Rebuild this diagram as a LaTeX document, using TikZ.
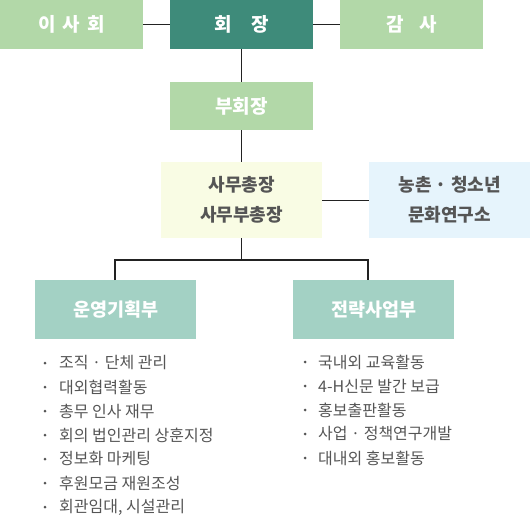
\documentclass[tikz,border=0pt]{standalone}
\usepackage{fontspec}
\setmainfont{Noto Sans CJK KR}
\usetikzlibrary{positioning}
\definecolor{boardgreen}{HTML}{B2D8A8}
\definecolor{chairteal}{HTML}{3E8B7A}
\definecolor{secyellow}{HTML}{F9FCE4}
\definecolor{labblue}{HTML}{E6F4FC}
\definecolor{deptteal}{HTML}{A3D1C4}
\definecolor{itemgray}{HTML}{555555}
\definecolor{linegray}{HTML}{222222}

\begin{document}
\begin{tikzpicture}[x=1pt,y=-1pt,
  topbox/.style={anchor=north west,minimum width=143pt,minimum height=49pt,inner sep=0pt,
    fill=boardgreen,text=white,font=\fontsize{19}{22}\selectfont\bfseries},
  midbox/.style={anchor=north west,minimum width=161pt,minimum height=76pt,inner sep=0pt,
    align=center,text=itemgray,font=\fontsize{18}{30}\selectfont\bfseries},
  deptbox/.style={anchor=north west,minimum width=161pt,minimum height=59pt,inner sep=0pt,
    fill=deptteal,text=white,font=\fontsize{18.5}{22}\selectfont\bfseries},
  bullet/.style={circle,fill=itemgray,inner sep=0pt,minimum size=3pt},
  item/.style={anchor=west,inner sep=0pt,text=itemgray,font=\fontsize{16}{18}\selectfont},
  link/.style={draw=linegray,line width=1.1pt}]
  \useasboundingbox (0,0) rectangle (530,516);

  % top row
  \node[topbox] (board) at (0,0) {이\hspace{0.35em}사\hspace{0.35em}회};
  \node[topbox,fill=chairteal] (chair) at (170,0) {회\quad 장};
  \node[topbox] (audit) at (340,0) {감\hspace{0.8em}사};
  \node[topbox,minimum height=48pt] (vice) at (170,82) {부회장};

  % secretariat and institute
  \node[midbox,fill=secyellow] (sec) at (161,162) {사무총장\\사무부총장};
  \node[midbox,fill=labblue] (lab) at (369,162) {농촌 · 청소년\\문화연구소};

  % departments
  \node[deptbox] (ops) at (35,280) {운영기획부};
  \node[deptbox] (strat) at (293,280) {전략사업부};

  \draw[link] (board) -- (chair);
  \draw[link] (chair) -- (audit);
  \draw[link] (chair) -- (vice);
  \draw[link] (vice) -- (sec);
  \draw[link] (sec) -- (lab);
  \coordinate (jL) at (115,260);
  \coordinate (jR) at (368,260);
  \draw[link] (sec) -- (sec |- jL);
  \draw[link] (jL |- ops.north) -- (jL) -- (jR) -- (jR |- strat.north);

  % task lists
  \foreach \t [count=\i] in {{조직 · 단체 관리},{대외협력활동},{총무 인사 재무},
      {회의 법인관리 상훈지정},{정보화 마케팅},{후원모금 재원조성},{회관임대, 시설관리}} {
    \node[bullet] (opsdot\i) at (45,339+24*\i) {};
    \node[item] (opsitem\i) at (59,339+24*\i) {\t};
  }
  \foreach \t [count=\i] in {{국내외 교육활동},{4-H신문 발간 보급},{홍보출판활동},
      {사업 · 정책연구개발},{대내외 홍보활동}} {
    \node[bullet] (stratdot\i) at (305,338+24*\i) {};
    \node[item] (stratitem\i) at (318,338+24*\i) {\t};
  }
\end{tikzpicture}
\end{document}
